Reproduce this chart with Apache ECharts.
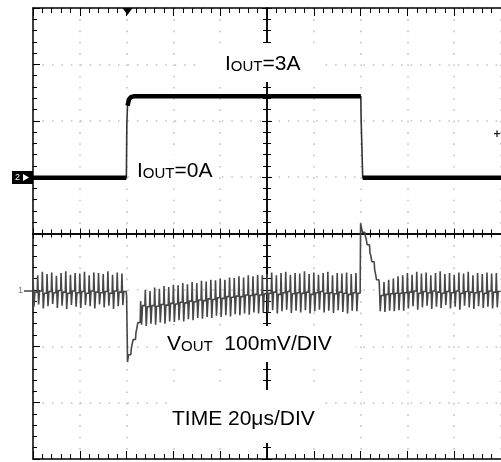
<!DOCTYPE html>
<html><head><meta charset="utf-8">
<script src="https://cdn.jsdelivr.net/npm/echarts@6/dist/echarts.min.js"></script>
<style>html,body{margin:0;padding:0;background:#fff}#c{width:501px;height:462px}</style>
</head><body><div id="c"></div>
<script>
// ---- axis settings (20 µs/div, 10 div horizontal, 8 div vertical) ----
const timeRange = [-100, 100];      // µs
const timeInterval = 20;            // µs per division
const divRange = [-4, 4];           // vertical divisions

// ---- IOUT trace (A) ----
const ioutTime = [-100, -60.1, -59.9, -59.6, -59.0, -58.2, -57.0, 40.1, 40.2, 40.7, 40.9, 100];
const ioutAmp  = [0, 0, 2.0, 2.65, 2.88, 2.97, 3.0, 3.0, 2.25, 2.2, 0, 0];
// segment k (point k -> k+1) drawn with the heavy (settled) stroke?
const ioutSettled = [1, 0, 0, 1, 1, 1, 1, 0, 0, 0, 1];

// ---- VOUT trace (mV, per ripple cycle of 2 µs) ----
const rippleStart = -100;
const ripplePeriod = 2;
const ripplePhase = [0, 0.4, 0.8, 1.8];
const voutHi = [30,26,32,28,31,25,30,33,27,30,29,32,26,31,30,28,33,27,31,29,
  -10,-104,-76,-20,
  0,-2,4,2,7,5,9,8,12,10,14,12,16,15,18,17,20,18,22,21,24,22,26,24,27,26,
  28,31,26,30,32,27,30,29,33,28,31,27,30,32,26,30,29,31,28,30,
  118,96,66,36,10,
  14,18,20,24,26,
  30,27,32,29,31,26,30,33,28,30,27,31,29,32,26,30,28,31,29,30];
const voutLo = [-30,-26,-33,-29,-25,-32,-28,-34,-27,-30,-32,-27,-29,-33,-26,-31,-28,-34,-29,-27,
  -128,-96,-68,-62,
  -64,-60,-62,-58,-60,-56,-57,-54,-56,-52,-54,-50,-51,-48,-50,-46,-48,-45,-47,-43,-45,-42,-44,-40,-42,-40,
  -40,-36,-42,-38,-35,-41,-37,-40,-36,-42,-38,-35,-40,-37,-41,-36,-39,-42,-37,-38,
  110,90,60,28,-38,
  -39,-37,-38,-36,-37,
  -33,-29,-35,-31,-28,-34,-30,-32,-27,-33,-30,-35,-28,-31,-34,-29,-32,-30,-33,-31];
const voutMid = [-4,-2,-6,-3,-5,-1,-4,-6,-2,-5,-3,-6,-2,-4,-5,-3,-6,-2,-4,-3,
  -115,-88,-58,-28,
  -30,-28,-29,-26,-27,-24,-25,-22,-23,-20,-21,-18,-19,-16,-17,-14,-15,-12,-13,-11,-12,-9,-10,-8,-9,-7,
  -6,-4,-8,-5,-3,-7,-5,-6,-4,-8,-5,-3,-6,-5,-7,-4,-6,-8,-5,-6,
  102,80,50,18,-10,
  -8,-7,-6,-6,-5,
  -4,-2,-6,-3,-5,-2,-4,-6,-3,-5,-2,-6,-3,-4,-5,-3,-6,-2,-4,-3];

// ---- labels ----
const labelIout3 = '{b|I}{s|OUT}{b|=3A}';
const labelIout0 = '{b|I}{s|OUT}{b|=0A}';
const labelVout  = '{b|V}{s|OUT}{b|  100mV/DIV}';
const labelTime  = '{b|TIME 20μs/DIV}';

// build series data
const ioutData = ioutTime.map((t, i) => [t, ioutAmp[i]]);
const ioutHeavy = [];
for (let k = 0; k < ioutSettled.length; k++) {
  if (ioutSettled[k]) {
    const last = ioutHeavy[ioutHeavy.length - 1];
    if (!last || last === '-' || last[0] !== ioutTime[k]) ioutHeavy.push([ioutTime[k], ioutAmp[k]]);
    ioutHeavy.push([ioutTime[k + 1], ioutAmp[k + 1]]);
  } else if (ioutHeavy.length && ioutHeavy[ioutHeavy.length - 1] !== '-') {
    ioutHeavy.push('-');
  }
}
const voutData = [];
for (let i = 0; i < voutHi.length; i++) {
  const t = rippleStart + i * ripplePeriod;
  const vals = [voutHi[i], voutLo[i], voutMid[i], voutMid[i]];
  for (let k = 0; k < ripplePhase.length; k++) voutData.push([t + ripplePhase[k], vals[k]]);
}

const black = '#000';
const dotColor = '#c4c4c4';
function xAx(extra) {
  return Object.assign({
    type: 'value', min: timeRange[0], max: timeRange[1], interval: timeInterval,
    axisLabel: { show: false }, splitLine: { show: false },
    axisLine: { onZero: false, lineStyle: { color: black, width: 1.5 } },
    axisTick: { inside: true, length: 8, lineStyle: { color: black, width: 1 } },
    minorTick: { show: true, splitNumber: 5, length: 5, lineStyle: { color: black, width: 1 } }
  }, extra);
}
function yAx(extra) {
  return Object.assign({
    type: 'value', min: divRange[0], max: divRange[1], interval: 1,
    axisLabel: { show: false }, splitLine: { show: false },
    axisLine: { onZero: false, lineStyle: { color: black, width: 1.5 } },
    axisTick: { inside: true, length: 7, lineStyle: { color: black, width: 1 } },
    minorTick: { show: true, splitNumber: 5, length: 4, lineStyle: { color: black, width: 1 } }
  }, extra);
}
const rich = {
  b: { fontSize: 21, fontFamily: 'Liberation Sans', lineHeight: 22, verticalAlign: 'bottom', fill: '#000' },
  s: { fontSize: 15, fontFamily: 'Liberation Sans', lineHeight: 22, verticalAlign: 'bottom', fill: '#000' }
};
function txt(x, y, text) {
  return { type: 'text', x: x, y: y, z: 10, style: { text: text, rich: rich, align: 'left', verticalAlign: 'top' } };
}
function box(x, y, w, h) {
  return { type: 'rect', z: 1, shape: { x: x, y: y, width: w, height: h }, style: { fill: '#fff' } };
}

const chart = echarts.init(document.getElementById('c'), null, { renderer: 'canvas' });
chart.setOption({
  animation: false,
  backgroundColor: '#fff',
  grid: { left: 33, top: 8, width: 472, height: 451, containLabel: false },
  xAxis: [
    xAx({ position: 'bottom', splitLine: { show: true, lineStyle: { color: dotColor, width: 1.6, type: [1.6, 9.68] } } }),
    xAx({ position: 'top' }),
    xAx({ position: 'bottom', axisLine: { onZero: true, onZeroAxisIndex: 0, lineStyle: { color: black, width: 1.5 } },
          axisTick: { inside: true, length: 5, lineStyle: { color: black } }, minorTick: { show: true, splitNumber: 5, length: 4, lineStyle: { color: black } } }),
    xAx({ position: 'bottom', axisLine: { onZero: true, onZeroAxisIndex: 0, lineStyle: { color: black, width: 1.5 } },
          axisTick: { inside: false, length: 5, lineStyle: { color: black } }, minorTick: { show: true, splitNumber: 5, length: 4, lineStyle: { color: black } } })
  ],
  yAxis: [
    yAx({ position: 'left', splitLine: { show: true, lineStyle: { color: dotColor, width: 1.6, type: [1.6, 7.84] } } }),
    yAx({ position: 'left', axisLine: { onZero: true, onZeroAxisIndex: 0, lineStyle: { color: black, width: 1.5 } },
          axisTick: { inside: true, length: 5, lineStyle: { color: black } }, minorTick: { show: true, splitNumber: 5, length: 4, lineStyle: { color: black } } }),
    yAx({ position: 'left', axisLine: { onZero: true, onZeroAxisIndex: 0, lineStyle: { color: black, width: 1.5 } },
          axisTick: { inside: false, length: 5, lineStyle: { color: black } }, minorTick: { show: true, splitNumber: 5, length: 4, lineStyle: { color: black } } }),
    { type: 'value', show: false, min: -10.35, max: 6.25 },
    { type: 'value', show: false, min: -300, max: 500 }
  ],
  series: [
    { type: 'line', name: 'VOUT', xAxisIndex: 0, yAxisIndex: 4, data: voutData, symbol: 'none',
      lineStyle: { color: '#474747', width: 1.6 }, z: 3 },
    { type: 'line', name: 'IOUT', xAxisIndex: 0, yAxisIndex: 3, data: ioutData, symbol: 'none',
      lineStyle: { color: '#333', width: 1.6 }, z: 4 },
    { type: 'line', name: 'IOUT settled', xAxisIndex: 0, yAxisIndex: 3, data: ioutHeavy, symbol: 'none',
      connectNulls: false, lineStyle: { color: '#000', width: 4.5, cap: 'butt' }, z: 5 }
  ],
  graphic: [
    box(200, 43, 122, 39),
    box(133, 155, 83, 32),
    box(163, 326, 192, 36),
    box(167, 390, 158, 53),
    txt(225, 52.5, labelIout3),
    txt(137, 159.5, labelIout0),
    txt(167, 332.5, labelVout),
    txt(172, 407.5, labelTime),
    { type: 'rect', z: 10, shape: { x: 12, y: 171, width: 21, height: 13 }, style: { fill: '#000' } },
    { type: 'text', z: 11, x: 15, y: 177.5, style: { text: '2', fill: '#fff', fontSize: 9, fontFamily: 'Liberation Sans', verticalAlign: 'middle' } },
    { type: 'polygon', z: 11, shape: { points: [[23, 174], [29, 177.5], [23, 181]] }, style: { fill: '#fff' } },
    { type: 'text', z: 10, x: 18, y: 291, style: { text: '1', fill: '#777', fontSize: 9, fontFamily: 'Liberation Sans', verticalAlign: 'middle' } },
    { type: 'line', z: 10, shape: { x1: 24, y1: 291, x2: 33, y2: 291 }, style: { stroke: '#444', lineWidth: 1.5 } },
    { type: 'polygon', z: 10, shape: { points: [[122.5, 8], [132.5, 8], [127.5, 15]] }, style: { fill: '#000' } },
    { type: 'text', z: 10, x: 497, y: 134.5, style: { text: '+', fill: '#222', fontSize: 12, fontWeight: 'bold', fontFamily: 'Liberation Sans', align: 'center', verticalAlign: 'middle' } }
  ]
});
</script>
</body></html>
